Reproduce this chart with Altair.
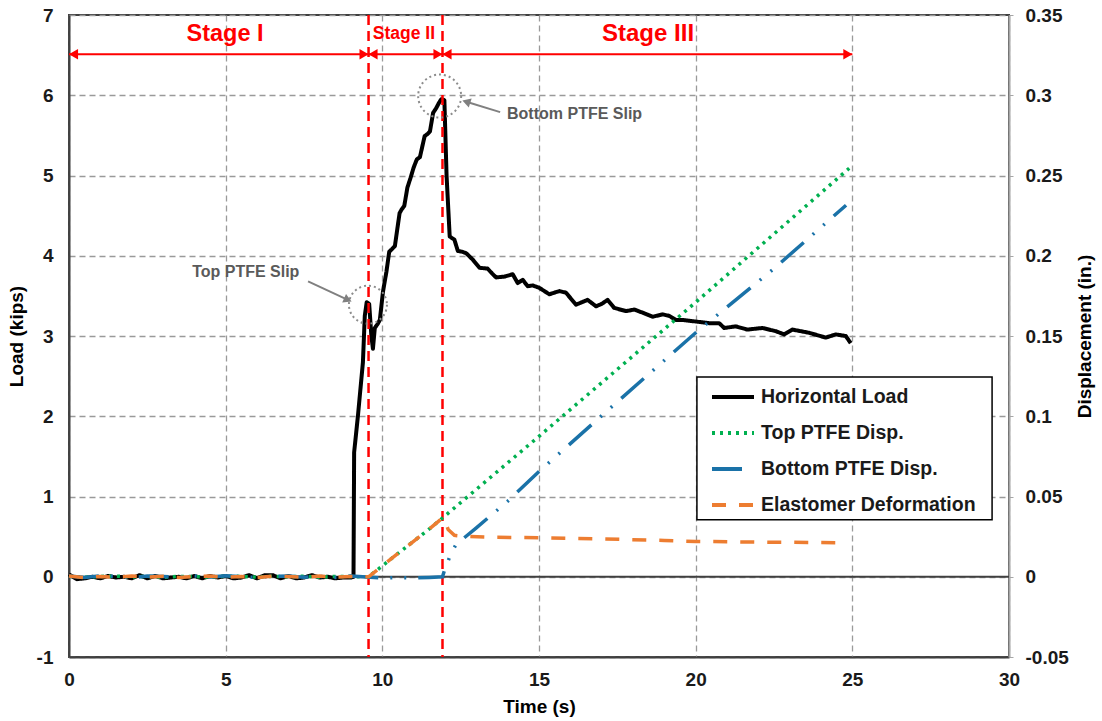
import altair as alt
import pandas as pd

FONT = "Liberation Sans"
SERIES = ["Horizontal Load", "Top PTFE Disp.", "Bottom PTFE Disp.", "Elastomer Deformation"]
COLORS = ["#000000", "#00b050", "#1a72a8", "#ed7d31"]
DASHES = [[1, 0], [3, 5], [30, 12, 2, 12, 2, 12], [14, 13]]

# Horizontal load (kips)
load_t = [0, 0.25, 0.5, 0.75, 1.0, 1.25, 1.5, 1.75, 2.0, 2.25, 2.5, 2.75, 3.0, 3.25, 3.5, 3.75,
          4.0, 4.25, 4.5, 4.75, 5.0, 5.25, 5.5, 5.75, 6.0, 6.25, 6.5, 6.75, 7.0, 7.25, 7.5, 7.75,
          8.0, 8.25, 8.5, 8.75, 9.0, 9.08, 9.1, 9.22, 9.38, 9.44, 9.5, 9.58, 9.65, 9.7, 9.76,
          9.85, 9.92, 10.02, 10.13, 10.22, 10.3, 10.4, 10.55, 10.62, 10.7, 10.8, 10.9, 11.0,
          11.1, 11.2, 11.35, 11.45, 11.52, 11.62, 11.72, 11.8, 11.88, 11.98, 12.05, 12.15, 12.3,
          12.41, 12.55, 12.68, 12.89, 13.1, 13.36, 13.5, 13.63, 13.9, 14.16, 14.32, 14.48, 14.64,
          14.8, 15.01, 15.33, 15.65, 15.86, 16.18, 16.55, 16.82, 17.0, 17.19, 17.4, 17.78, 18.04,
          18.31, 18.63, 18.95, 19.16, 19.37, 19.58, 20.01, 20.43, 20.75, 20.91, 21.28, 21.65,
          22.13, 22.56, 22.82, 23.09, 23.62, 24.15, 24.47, 24.79, 24.95]
load_v = [0.03, -0.03, -0.02, 0.0, -0.02, 0.01, -0.01, 0.0, -0.02, 0.02, -0.02, 0.01, -0.02, -0.01,
          0.0, -0.02, 0.01, -0.02, 0.01, -0.01, 0.01, -0.02, -0.01, 0.02, -0.02, 0.02, 0.02, -0.02,
          0.01, -0.02, -0.01, 0.02, -0.01, 0.0, -0.02, -0.01, -0.01, 0.0, 1.55, 2.0, 2.67, 3.25,
          3.42, 3.40, 3.0, 2.84, 3.1, 3.15, 3.2, 3.55, 3.8, 4.05, 4.08, 4.12, 4.53, 4.58, 4.62,
          4.85, 4.97, 5.1, 5.2, 5.23, 5.49, 5.52, 5.55, 5.78, 5.84, 5.9, 5.95, 5.94, 5.0, 4.24,
          4.2, 4.06, 4.05, 4.03, 3.95, 3.85, 3.84, 3.78, 3.73, 3.74, 3.77, 3.66, 3.70, 3.62, 3.63,
          3.60, 3.52, 3.56, 3.54, 3.39, 3.45, 3.37, 3.40, 3.45, 3.35, 3.31, 3.33, 3.29, 3.24,
          3.27, 3.25, 3.20, 3.20, 3.18, 3.16, 3.16, 3.10, 3.12, 3.08, 3.10, 3.06, 3.02, 3.08,
          3.04, 2.98, 3.02, 3.00, 2.91]

# Displacements (in.)
top_t = [0, 0.5, 1.0, 1.5, 2.0, 2.5, 3.0, 3.5, 4.0, 4.5, 5.0, 5.5, 6.0, 6.5, 7.0, 7.5, 8.0, 8.5,
         9.0, 9.5, 9.56, 10.5, 11.5, 11.92, 15.0, 20.0, 24.9]
top_v = [0.0003, -0.0003, 0.0002, 0.0004, -0.0002, 0.0003, -0.0004, 0.0002, 0.0001, -0.0003,
         0.0004, 0.0002, -0.0002, 0.0003, -0.0001, 0.0004, -0.0003, 0.0002, 0.0001, 0.0, 0.0,
         0.0145, 0.0298, 0.0366, 0.0875, 0.171, 0.2545]

bot_t = [0, 0.5, 1.0, 1.5, 2.0, 2.5, 3.0, 3.5, 4.0, 4.5, 5.0, 5.5, 6.0, 6.5, 7.0, 7.5, 8.0, 8.5,
         9.0, 9.5, 10.0, 10.5, 11.0, 11.5, 11.92, 12.0, 12.2, 12.35, 13.0, 14.0, 15.0, 17.5,
         20.0, 22.5, 24.8]
bot_v = [0.0005, -0.0004, 0.0006, 0.0002, -0.0005, 0.0004, 0.0001, -0.0003, 0.0005, -0.0002,
         0.0006, 0.0, -0.0004, 0.0003, 0.0005, -0.0003, 0.0002, -0.0004, 0.0004, -0.0002,
         -0.0008, -0.0005, -0.0007, -0.0004, 0.0, 0.005, 0.0148, 0.02, 0.0305, 0.047, 0.0656,
         0.109, 0.152, 0.192, 0.2315]

elas_t = [0, 0.5, 1.0, 1.5, 2.0, 2.5, 3.0, 3.5, 4.0, 4.5, 5.0, 5.5, 6.0, 6.5, 7.0, 7.5, 8.0, 8.5,
          9.0, 9.5, 9.56, 10.5, 11.5, 11.92, 12.0, 12.1, 12.3, 12.6, 13.5, 15.0, 17.0, 19.0,
          20.0, 22.0, 24.8]
elas_v = [0.0004, -0.0005, 0.0002, -0.0003, 0.0005, -0.0002, 0.0003, -0.0004, 0.0001, 0.0004,
          -0.0003, 0.0002, -0.0005, 0.0003, 0.0001, -0.0004, 0.0004, -0.0002, 0.0002, 0.0, 0.0,
          0.0145, 0.0298, 0.0366, 0.0345, 0.0295, 0.0258, 0.0252, 0.0246, 0.0243, 0.0236,
          0.0226, 0.022, 0.0216, 0.0212]

# Stage annotations
stage_bounds = [9.56, 11.92]
stage_start = [0, 9.56, 11.92]
stage_end = [9.56, 11.92, 25]
stage_arrow_level = 6.51
stage_names = ["Stage I", "Stage II", "Stage III"]
stage_label_t = [4.98, 10.69, 18.48]
stage_label_v = 6.76
stage_font = [23.5, 17.5, 24]

# Slip annotations
slip_text = ["Top PTFE Slip", "Bottom PTFE Slip"]
slip_text_t = [3.93, 13.98]
slip_text_v = [3.80, 5.77]
circ_t = [9.54, 11.83]
circ_v = [3.39, 5.99]
circ_size = [1444, 1850]
arr_t0 = [7.63, 13.76]
arr_v0 = [3.68, 5.79]
arr_t1 = [8.90, 12.68]
arr_v1 = [3.45, 5.92]
arr_angle = [24, 17.5]
arr_shape = ["triangle-right", "triangle-left"]

# Legend frame (data coordinates of the box corners)
legend_box_t = [20.04, 29.46]
legend_box_v = [2.49, 0.71]

x_ticks = [0, 5, 10, 15, 20, 25, 30]
load_ticks = [-1, 0, 1, 2, 3, 4, 5, 6, 7]
disp_ticks = [-0.05, 0, 0.05, 0.1, 0.15, 0.2, 0.25, 0.3, 0.35]

# ---------------------------------------------------------------
load_df = pd.DataFrame({"t": load_t, "v": load_v, "series": SERIES[0]})
disp_df = pd.concat([
    pd.DataFrame({"t": top_t, "d": top_v, "series": SERIES[1]}),
    pd.DataFrame({"t": bot_t, "d": bot_v, "series": SERIES[2]}),
    pd.DataFrame({"t": elas_t, "d": elas_v, "series": SERIES[3]}),
])

LBL = dict(labelFont=FONT, labelFontSize=19, labelFontWeight="bold", labelColor="#1a1a1a",
           titleFont=FONT, titleFontSize=19, titleFontWeight="bold", titleColor="#000000",
           labelFlush=False)
MINUS = "datum.value < 0 ? '-' + format(-datum.value, '~g') : format(datum.value, '~g')"

xscale = alt.Scale(domain=[0, 30], nice=False, zero=False)
xaxis = alt.Axis(title="Time (s)", values=x_ticks, grid=True, gridDash=[6, 4], gridColor="#9a9a9a",
                 gridWidth=1.3, ticks=False, domainColor="#404040", domainWidth=2,
                 labelPadding=13, titlePadding=8, **LBL)
yscale = alt.Scale(domain=[-1, 7], nice=False, zero=False)
yaxis = alt.Axis(title="Load (kips)", values=load_ticks, grid=True, gridDash=[6, 4],
                 gridColor="#9a9a9a", gridWidth=1.3, ticks=False, domainColor="#404040",
                 domainWidth=2, labelPadding=16, titlePadding=10, labelExpr=MINUS, **LBL)
dscale = alt.Scale(domain=[-0.05, 0.35], nice=False, zero=False)
daxis = alt.Axis(title="Displacement (in.)", orient="right", values=disp_ticks, grid=False,
                 ticks=True, tickSize=4, tickColor="#a6a6a6", domainColor="#a6a6a6", domainWidth=2,
                 labelPadding=12, titlePadding=26, titleAngle=270, labelExpr=MINUS, **LBL)


def X(field="t"):
    return alt.X(f"{field}:Q", scale=xscale, axis=xaxis)


def Y(field):
    return alt.Y(f"{field}:Q", scale=yscale, axis=yaxis)


legend = alt.Legend(title=None, orient="none", legendX=641, legendY=359)
color = alt.Color("series:N", scale=alt.Scale(domain=SERIES, range=COLORS), legend=legend)
dash = alt.StrokeDash("series:N", scale=alt.Scale(domain=SERIES, range=DASHES), legend=legend)

zero_df = pd.DataFrame({"v": [0]})
zero_rule = alt.Chart(zero_df).mark_rule(color="#404040", strokeWidth=2).encode(y=Y("v"))

load_line = alt.Chart(load_df).mark_line(strokeWidth=4, strokeJoin="round").encode(
    x=X(), y=Y("v"), color=color, strokeDash=dash, order="t:Q")

bounds_df = pd.DataFrame({"t": stage_bounds})
red_vert = alt.Chart(bounds_df).mark_rule(color="#ff0000", strokeWidth=2.5, strokeDash=[10, 6]).encode(
    x=X())

stage_df = pd.DataFrame({"t": stage_start, "t2": stage_end, "v": stage_arrow_level,
                         "name": stage_names, "lt": stage_label_t, "lv": stage_label_v,
                         "fs": stage_font})
stage_rule = alt.Chart(stage_df).mark_rule(color="#ff0000", strokeWidth=2).encode(
    x=X("t"), x2="t2:Q", y=Y("v"))
head_left = alt.Chart(stage_df).mark_point(shape="triangle-left", filled=True, color="#ff0000",
                                           size=110, opacity=1, xOffset=4.5).encode(
    x=X("t"), y=Y("v"))
head_right = alt.Chart(stage_df).mark_point(shape="triangle-right", filled=True, color="#ff0000",
                                            size=110, opacity=1, xOffset=-4.5).encode(
    x=X("t2"), y=Y("v"))
stage_txt = alt.Chart(stage_df).mark_text(color="#ff0000", font=FONT, fontWeight="bold",
                                          baseline="middle", align="center").encode(
    x=X("lt"), y=Y("lv"), text="name:N", size=alt.Size("fs:Q", scale=None, legend=None))

slip_df = pd.DataFrame({"txt": slip_text, "tt": slip_text_t, "tv": slip_text_v,
                        "ct": circ_t, "cv": circ_v, "cs": circ_size,
                        "a0": arr_t0, "b0": arr_v0, "a1": arr_t1, "b1": arr_v1,
                        "ang": arr_angle, "shp": arr_shape})
slip_txt = alt.Chart(slip_df).mark_text(color="#5a5a5a", font=FONT, fontWeight="bold",
                                        fontSize=16, align="left", baseline="middle").encode(
    x=X("tt"), y=Y("tv"), text="txt:N")
circles = alt.Chart(slip_df).mark_point(shape="circle", filled=False, color="#8c8c8c",
                                        strokeWidth=2, strokeDash=[2, 3], opacity=1).encode(
    x=X("ct"), y=Y("cv"), size=alt.Size("cs:Q", scale=None, legend=None))
arr_line = alt.Chart(slip_df).mark_rule(color="#808080", strokeWidth=2).encode(
    x=X("a0"), y=Y("b0"), x2="a1:Q", y2="b1:Q")
arr_head = alt.Chart(slip_df).mark_point(filled=True, color="#808080", size=90, opacity=1).encode(
    x=X("a1"), y=Y("b1"), angle=alt.Angle("ang:Q", scale=None),
    shape=alt.Shape("shp:N", scale=None, legend=None))

box_df = pd.DataFrame({"t": [legend_box_t[0]], "t2": [legend_box_t[1]],
                       "v": [legend_box_v[0]], "v2": [legend_box_v[1]]})
legend_box = alt.Chart(box_df).mark_rect(fill="white", stroke="black", strokeWidth=1.5).encode(
    x=X("t"), x2="t2:Q", y=Y("v"), y2="v2:Q")

left_group = alt.layer(zero_rule, load_line, red_vert, stage_rule, head_left, head_right,
                       stage_txt, circles, arr_line, arr_head, slip_txt, legend_box)

disp_lines = alt.Chart(disp_df).mark_line(strokeWidth=3.5).encode(
    x=X(), y=alt.Y("d:Q", scale=dscale, axis=daxis), color=color, strokeDash=dash,
    detail="series:N", order="t:Q")

chart = alt.layer(left_group, disp_lines).resolve_scale(y="independent").properties(
    width=940, height=642,
    autosize=alt.AutoSizeParams(type="none"),
    padding={"left": 69, "top": 15, "right": 93, "bottom": 64},
).configure_view(stroke="#404040", strokeWidth=2).configure_legend(
    padding=0,
    labelFont=FONT, labelFontSize=19.5, labelFontWeight="bold", labelColor="#1a1a1a",
    symbolType="stroke", symbolSize=1764, symbolStrokeWidth=4, labelOffset=5,
    rowPadding=3, labelLimit=400,
)

chart.save("out.html", embed_options={"renderer": "svg", "actions": False})
